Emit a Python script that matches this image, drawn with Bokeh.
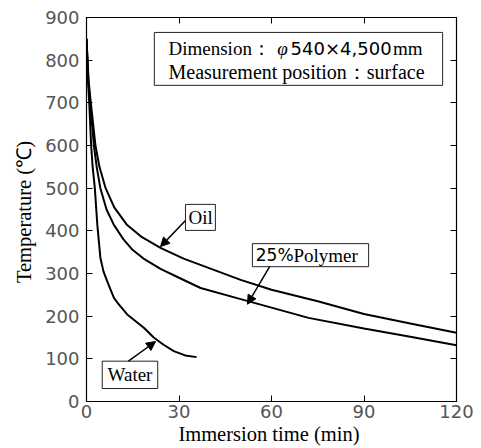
from bokeh.plotting import figure
from bokeh.models import Range1d, LinearAxis, FixedTicker, Arrow, NormalHead
from bokeh.core.properties import value
from bokeh.embed import file_html
from bokeh.resources import INLINE

# ---- data ----
oil_t = [0, 0.7, 1.4, 2.9, 4.2, 6.2, 9, 13, 18, 24, 31.5, 40, 50, 60, 75, 90, 105, 120]
oil_T = [850, 750, 700, 600, 550, 500, 455, 415, 385, 360, 335, 312, 285, 262, 235, 205, 183, 161]

poly_t = [0, 0.6, 1.2, 2.4, 3.3, 4.5, 6.5, 8.8, 12, 15, 18.5, 24, 30, 37, 50, 60, 72, 90, 105, 120]
poly_T = [850, 750, 700, 600, 550, 500, 450, 415, 380, 355, 335, 311, 290, 266, 240, 220, 196, 171, 152, 132]

water_t = [0, 0.5, 0.9, 1.5, 2.0, 2.7, 3.5, 4.5, 5.5, 6.7, 7.8, 8.9, 10, 13.2, 18.6, 21.8, 25, 28.3, 32, 35.7]
water_T = [850, 750, 700, 600, 550, 500, 415, 337, 305, 282, 262, 243, 232, 204, 173, 150, 133, 118, 108, 104]

x_ticks = [0, 30, 60, 90, 120]
y_ticks = [0, 100, 200, 300, 400, 500, 600, 700, 800, 900]

# label boxes (left, right, bottom, top) and texts
info_box = [22.0, 115.5, 741, 865]
info_l1 = ["Dimension：", "φ", "540×4,500", "mm"]
info_l1_x = [26.6, 61.9, 66.2, 99.4]
info_l2 = "Measurement position：surface"
info_x = 26.6
info_y = [827, 773]

oil_box = [32.1, 41.8, 401, 462]
oil_label = ("Oil", 37.0, 431)
oil_arrow = (32.1, 424, 24.0, 363)

poly_box = [53.8, 91.5, 316, 370]
poly_parts = ["25%", "Polymer"]
poly_parts_x = [54.9, 67.1]
poly_y = 343
poly_arrow = (59.4, 316, 52.2, 228)

water_box = [5.1, 23.1, 30.5, 94.5]
water_label = ("Water", 14.1, 62.5)
water_arrow = (13.6, 94.5, 22.4, 140.6)

SERIF = "Liberation Serif"
SANS = "DejaVu Sans"

p = figure(width=481, height=448, output_backend="svg", toolbar_location=None,
           x_range=Range1d(0, 120), y_range=Range1d(0, 900),
           frame_width=370, frame_height=384,
           min_border_left=86, min_border_right=25, min_border_top=17, min_border_bottom=47)
p.xgrid.visible = False
p.ygrid.visible = False
p.outline_line_color = "black"
p.outline_line_width = 1.2
p.background_fill_color = "white"
p.border_fill_color = "white"

for ax in (p.xaxis[0], p.yaxis[0]):
    ax.major_tick_in = 6
    ax.major_tick_out = 0
    ax.minor_tick_line_color = None
    ax.axis_line_color = "black"
    ax.major_tick_line_color = "black"
    ax.major_label_text_font = SANS
    ax.major_label_text_font_size = "18px"
    ax.major_label_text_color = "#555555"
    ax.axis_label_text_font = SERIF
    ax.axis_label_text_font_size = "20.5px"
    ax.axis_label_text_font_style = "normal"
    ax.axis_label_text_color = "black"

p.xaxis[0].ticker = FixedTicker(ticks=x_ticks)
p.yaxis[0].ticker = FixedTicker(ticks=y_ticks)
p.xaxis[0].axis_label = "Immersion time  (min)"
p.yaxis[0].axis_label = "Temperature  (℃)"
p.xaxis[0].major_label_standoff = 3
p.yaxis[0].major_label_standoff = 7
p.xaxis[0].axis_label_standoff = 2
p.yaxis[0].axis_label_standoff = 7

top_ax = LinearAxis(ticker=FixedTicker(ticks=x_ticks), major_tick_in=6, major_tick_out=0,
                    minor_tick_line_color=None, major_label_text_font_size="0px",
                    major_label_text_color=None,
                    major_label_standoff=0, axis_line_color="black")
right_ax = LinearAxis(ticker=FixedTicker(ticks=y_ticks), major_tick_in=6, major_tick_out=0,
                      minor_tick_line_color=None, major_label_text_font_size="0px",
                      major_label_text_color=None,
                      major_label_standoff=0, axis_line_color="black")
p.add_layout(top_ax, "above")
p.add_layout(right_ax, "right")

# curves
for t, T in ((oil_t, oil_T), (poly_t, poly_T), (water_t, water_T)):
    p.line(t, T, line_color="black", line_width=2)

# boxes
for b in (info_box, oil_box, poly_box, water_box):
    p.quad(left=[b[0]], right=[b[1]], bottom=[b[2]], top=[b[3]],
           fill_color="white", line_color="#222222", line_width=1)

# info box line 1 (mixed fonts)
fonts1 = [SERIF, SERIF, SANS, SERIF]
styles1 = ["normal", "italic", "normal", "normal"]
sizes1 = ["19px", "19px", "18px", "19px"]
for txt, xx, f, st, sz in zip(info_l1, info_l1_x, fonts1, styles1, sizes1):
    p.text(x=[xx], y=[info_y[0]], text=[txt], text_font=value(f), text_font_style=st,
           text_font_size=sz, text_baseline="middle", text_align="left", text_color="black")
p.text(x=[info_x], y=[info_y[1]], text=[info_l2], text_font=value(SERIF),
       text_font_size="20px", text_baseline="middle", text_align="left", text_color="black")

for lab in (oil_label, water_label):
    p.text(x=[lab[1]], y=[lab[2]], text=[lab[0]], text_font=value(SERIF),
           text_font_size="19px", text_baseline="middle", text_align="center", text_color="black")

p.text(x=[poly_parts_x[0]], y=[poly_y], text=[poly_parts[0]], text_font=value(SANS),
       text_font_size="17px", text_baseline="middle", text_align="left", text_color="black")
p.text(x=[poly_parts_x[1]], y=[poly_y], text=[poly_parts[1]], text_font=value(SERIF),
       text_font_size="19px", text_baseline="middle", text_align="left", text_color="black")

for a in (oil_arrow, poly_arrow, water_arrow):
    p.add_layout(Arrow(end=NormalHead(size=9, fill_color="black", line_color="black"),
                       x_start=a[0], y_start=a[1], x_end=a[2], y_end=a[3],
                       line_color="black", line_width=1.5))

open("out.html", "w").write(file_html(p, INLINE))
